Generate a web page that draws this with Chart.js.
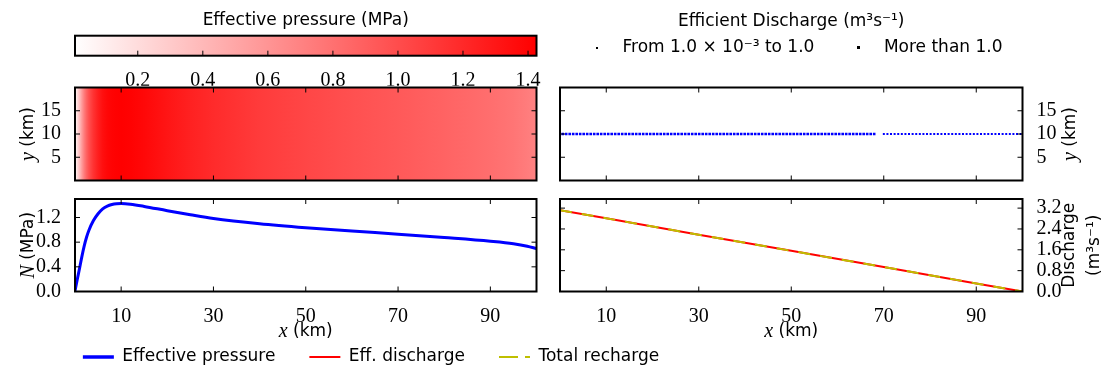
<!DOCTYPE html>
<html>
<head>
<meta charset="utf-8">
<title>Effective pressure and efficient discharge</title>
<script src="https://cdn.jsdelivr.net/npm/chart.js@4.4.1/dist/chart.umd.min.js"></script>
<style>
  html, body { margin: 0; padding: 0; background: #ffffff; overflow: hidden; }
  #figure { position: relative; width: 1110px; height: 374px; overflow: hidden; }
  #figure canvas { position: absolute; left: 0; top: 0; }
</style>
</head>
<body>
<div id="figure">
  <canvas id="cbar" width="1110" height="374"></canvas>
  <canvas id="mapN" width="1110" height="374"></canvas>
  <canvas id="mapQ" width="1110" height="374"></canvas>
  <canvas id="lineN" width="1110" height="374"></canvas>
  <canvas id="lineQ" width="1110" height="374"></canvas>
  <canvas id="legQ" width="1110" height="374"></canvas>
  <canvas id="legB" width="1110" height="300" style="top:240px"></canvas>
</div>
<script>
// Effective pressure along the flow line
var xKm = [0, 0.5, 1, 1.5, 2, 2.5, 3, 4, 5, 6, 7, 8, 9, 10, 12, 15, 20, 25, 30, 40, 50, 60, 70, 80, 90, 95, 98, 100];
var effPressure = [0.007, 0.2, 0.38, 0.57, 0.74, 0.88, 0.99, 1.15, 1.26, 1.34, 1.385, 1.41, 1.423, 1.426, 1.415, 1.38, 1.31, 1.245, 1.185, 1.10, 1.035, 0.98, 0.93, 0.875, 0.815, 0.775, 0.735, 0.695];

// Discharge (lower right panel)
var qX = [0, 10, 30, 50, 70, 90, 100];
var effDischarge = [3.12, 2.81, 2.18, 1.56, 0.94, 0.31, 0];
var totalRecharge = [3.12, 2.81, 2.18, 1.56, 0.94, 0.31, 0];

// Efficient channel (upper right panel), split by discharge class
var channelY = 10;
var moreThanOneX = [0.3, 68.4];
var fromMilliX = [69.8, 99.8];
var mapTopKm = 20;

// Ticks
var xTicks = [10, 30, 50, 70, 90];
var mapYTicks = [5, 10, 15];
var nTicks = [0, 0.4, 0.8, 1.2];
var qTicks = [0, 0.8, 1.6, 2.4, 3.2];
var cbTicks = [0.2, 0.4, 0.6, 0.8, 1.0, 1.2, 1.4];

var legendNames = ['Effective pressure', 'Eff. discharge', 'Total recharge'];
var channelNames = ['From 1.0 \u00d7 10\u207b\u00b3 to 1.0', 'More than 1.0'];

var SERIF = '"Liberation Serif", serif';
var SANS = '"DejaVu Sans", sans-serif';
var tickFont = {family: SERIF, size: 20};
var seriesColors = ['#0000ff', '#ff0000', '#bfbf00'];

Chart.defaults.color = '#000';
Chart.defaults.font.family = SANS;

var cbMin = Math.min.apply(null, effPressure);
var cbMax = Math.max.apply(null, effPressure);

function pressureColor(n) {
    var t = Math.max(0, Math.min(1, (n - cbMin) / (cbMax - cbMin)));
    var v = Math.round(255 * (1 - t));
    return 'rgb(255,' + v + ',' + v + ')';
}

function baseOptions(padding) {
    return {
        responsive: false,
        animation: false,
        devicePixelRatio: 1,
        events: [],
        layout: {padding: padding},
        plugins: {legend: {display: false}, tooltip: {enabled: false}, title: {display: false}}
    };
}

function xAxis(showLabels, height) {
    return {
        type: 'linear', min: 0, max: 100,
        grid: {display: false}, border: {display: false},
        afterBuildTicks: function (s) { s.ticks = xTicks.map(function (v) { return {value: v}; }); },
        afterFit: function (s) { s.height = height; },
        ticks: {display: showLabels, autoSkip: false, maxRotation: 0, padding: 5, color: '#000', font: tickFont,
            callback: function (v) { return String(v); }}
    };
}

function yAxis(position, max, list, width, digits) {
    return {
        type: 'linear', position: position, min: 0, max: max,
        grid: {display: false}, border: {display: false},
        afterBuildTicks: function (s) { s.ticks = list.map(function (v) { return {value: v}; }); },
        afterFit: function (s) { s.width = width; },
        ticks: {autoSkip: false, padding: 6, color: '#000', font: tickFont,
            callback: function (v) { return v.toFixed(digits); }}
    };
}

// black frame with matplotlib style inward ticks
function frame(xSides, ySides) {
    return {
        id: 'frame',
        afterDraw: function (chart) {
            var ctx = chart.ctx, a = chart.chartArea, len = 5;
            ctx.save();
            ctx.strokeStyle = '#000';
            ctx.lineWidth = 1;
            ctx.beginPath();
            chart.scales.x.ticks.forEach(function (t) {
                var px = chart.scales.x.getPixelForValue(t.value);
                if (xSides.indexOf('bottom') >= 0) { ctx.moveTo(px, a.bottom); ctx.lineTo(px, a.bottom - len); }
                if (xSides.indexOf('top') >= 0) { ctx.moveTo(px, a.top); ctx.lineTo(px, a.top + len); }
            });
            if (ySides.length) {
                chart.scales.y.ticks.forEach(function (t) {
                    var py = chart.scales.y.getPixelForValue(t.value);
                    if (ySides.indexOf('left') >= 0) { ctx.moveTo(a.left, py); ctx.lineTo(a.left + len, py); }
                    if (ySides.indexOf('right') >= 0) { ctx.moveTo(a.right, py); ctx.lineTo(a.right - len, py); }
                });
            }
            ctx.stroke();
            ctx.lineWidth = 2;
            ctx.strokeRect(a.left, a.top, a.right - a.left, a.bottom - a.top);
            ctx.restore();
        }
    };
}

// axis titles with mixed fonts (math italic + sans), rotated like matplotlib
function titles(items) {
    return {
        id: 'richTitles',
        afterDraw: function (chart) {
            var ctx = chart.ctx, a = chart.chartArea;
            items.forEach(function (item) {
                var cx = (a.left + a.right) / 2, cy = (a.top + a.bottom) / 2;
                if (item.side === 'left') cx = a.left - item.offset;
                if (item.side === 'right') cx = a.right + item.offset;
                if (item.side === 'bottom') cy = a.bottom + item.offset;
                ctx.save();
                ctx.translate(cx, cy);
                if (item.side !== 'bottom') ctx.rotate(-Math.PI / 2);
                ctx.fillStyle = '#000';
                ctx.textBaseline = 'middle';
                ctx.textAlign = 'left';
                item.lines.forEach(function (runs, li) {
                    var w = 0;
                    runs.forEach(function (r) { ctx.font = r.font; w += ctx.measureText(r.text).width; });
                    var x = -w / 2;
                    var y = (li - (item.lines.length - 1) / 2) * (item.gap || 0);
                    runs.forEach(function (r) {
                        ctx.font = r.font;
                        ctx.fillText(r.text, x, y);
                        x += ctx.measureText(r.text).width;
                    });
                });
                ctx.restore();
            });
        }
    };
}

var mathIt = 'italic 20px ' + SERIF;
var sans17 = '17px ' + SANS;
function mathLabel(sym, unit) { return [[{text: sym, font: mathIt}, {text: ' ' + unit, font: sans17}]]; }

function markerCanvas(size) {
    var c = document.createElement('canvas');
    c.width = size; c.height = size;
    var g = c.getContext('2d');
    g.fillStyle = '#000';
    g.fillRect(0, 0, size, size);
    return c;
}

// Colorbar
var cbOpts = baseOptions({left: 75, right: 573.5, top: 0, bottom: 288.3});
cbOpts.scales = {
    x: {
        type: 'linear', min: cbMin, max: cbMax,
        grid: {display: false}, border: {display: false},
        afterBuildTicks: function (s) { s.ticks = cbTicks.map(function (v) { return {value: v}; }); },
        afterFit: function (s) { s.height = 30; },
        ticks: {autoSkip: false, maxRotation: 0, padding: 5, color: '#000', font: tickFont,
            callback: function (v) { return v.toFixed(1); }}
    },
    y: {display: false, min: 0, max: 1}
};
cbOpts.plugins.title = {display: true, text: 'Effective pressure (MPa)', fullSize: false, color: '#000',
    font: {family: SANS, size: 17, weight: 'normal'}, padding: {top: 10.8, bottom: 4.5}};
new Chart(document.getElementById('cbar'), {
    type: 'line',
    data: {datasets: [{
        data: [{x: cbMin, y: 1}, {x: cbMax, y: 1}],
        borderWidth: 0, pointRadius: 0, fill: 'origin',
        backgroundColor: function (context) {
            var chart = context.chart, a = chart.chartArea;
            if (!a) return 'rgba(0,0,0,0)';
            var g = chart.ctx.createLinearGradient(a.left, 0, a.right, 0);
            g.addColorStop(0, pressureColor(cbMin));
            g.addColorStop(1, pressureColor(cbMax));
            return g;
        }
    }]},
    options: cbOpts,
    plugins: [frame(['bottom'], [])]
});

// Effective pressure map
var mapNOpts = baseOptions({left: 0, right: 573.5, top: 87.5, bottom: 193.5});
mapNOpts.scales = {x: xAxis(false, 0), y: yAxis('left', mapTopKm, mapYTicks, 75, 0)};
new Chart(document.getElementById('mapN'), {
    type: 'line',
    data: {datasets: [{
        data: xKm.map(function (x) { return {x: x, y: mapTopKm}; }),
        borderWidth: 0, pointRadius: 0, fill: 'origin',
        backgroundColor: function (context) {
            var chart = context.chart, a = chart.chartArea;
            if (!a) return 'rgba(0,0,0,0)';
            var xs = chart.scales.x;
            var g = chart.ctx.createLinearGradient(a.left, 0, a.right, 0);
            xKm.forEach(function (x, i) {
                var stop = (xs.getPixelForValue(x) - a.left) / (a.right - a.left);
                g.addColorStop(Math.max(0, Math.min(1, stop)), pressureColor(effPressure[i]));
            });
            return g;
        }
    }]},
    options: mapNOpts,
    plugins: [frame(['top', 'bottom'], ['left', 'right']),
        titles([{side: 'left', offset: 46, lines: mathLabel('y', '(km)')}])]
});

// Efficient channel map
var mapQOpts = baseOptions({left: 560, right: 0, top: 0, bottom: 193.5});
mapQOpts.scales = {x: xAxis(false, 0), y: yAxis('right', mapTopKm, mapYTicks, 87.5, 0)};
mapQOpts.plugins.title = {display: true, text: 'Efficient Discharge (m\u00b3s\u207b\u00b9)', fullSize: false, color: '#000',
    font: {family: SANS, size: 17, weight: 'normal'}, padding: {top: 11.8, bottom: 55.3}};
new Chart(document.getElementById('mapQ'), {
    type: 'line',
    data: {datasets: [
        {label: channelNames[1], data: moreThanOneX.map(function (x) { return {x: x, y: channelY}; }),
            borderColor: '#0000ff', borderWidth: 2.7, borderDash: [2.6, 0.9], pointRadius: 0, fill: false},
        {label: channelNames[0], data: fromMilliX.map(function (x) { return {x: x, y: channelY}; }),
            borderColor: '#0000ff', borderWidth: 2, borderDash: [2, 1.6], pointRadius: 0, fill: false}
    ]},
    options: mapQOpts,
    plugins: [frame(['top', 'bottom'], ['left', 'right']),
        titles([{side: 'right', offset: 48, lines: mathLabel('y', '(km)')}])]
});

// Effective pressure profile
var lineNOpts = baseOptions({left: 0, right: 573.5, top: 199, bottom: 42.5});
lineNOpts.scales = {x: xAxis(true, 40), y: yAxis('left', 1.5, nTicks, 75, 1)};
new Chart(document.getElementById('lineN'), {
    type: 'line',
    data: {datasets: [{
        label: legendNames[0],
        data: xKm.map(function (x, i) { return {x: x, y: effPressure[i]}; }),
        borderColor: seriesColors[0], borderWidth: 3, pointRadius: 0, fill: false,
        cubicInterpolationMode: 'monotone'
    }]},
    options: lineNOpts,
    plugins: [frame(['top', 'bottom'], ['left', 'right']),
        titles([{side: 'left', offset: 46, lines: mathLabel('N', '(MPa)')},
            {side: 'bottom', offset: 40, lines: mathLabel('x', '(km)')}])]
});

// Discharge profile
var lineQOpts = baseOptions({left: 560, right: 0, top: 199, bottom: 42.5});
lineQOpts.scales = {x: xAxis(true, 40), y: yAxis('right', 3.55, qTicks, 87.5, 1)};
new Chart(document.getElementById('lineQ'), {
    type: 'line',
    data: {datasets: [
        {label: legendNames[2], data: qX.map(function (x, i) { return {x: x, y: totalRecharge[i]}; }),
            borderColor: seriesColors[2], borderWidth: 2, borderDash: [12, 10], pointRadius: 0, fill: false, order: 0},
        {label: legendNames[1], data: qX.map(function (x, i) { return {x: x, y: effDischarge[i]}; }),
            borderColor: seriesColors[1], borderWidth: 2, pointRadius: 0, fill: false, order: 1}
    ]},
    options: lineQOpts,
    plugins: [frame(['top', 'bottom'], ['left', 'right']),
        titles([{side: 'right', offset: 60, gap: 25, lines: [[{text: 'Discharge', font: sans17}], [{text: '(m\u00b3s\u207b\u00b9)', font: sans17}]]},
            {side: 'bottom', offset: 40, lines: mathLabel('x', '(km)')}])]
});

// Legend of the channel markers (centred over the right panels)
var markerSizes = [2, 3];
var legQOpts = baseOptions({left: 530, right: 57.5, top: 12, bottom: 0});
legQOpts.scales = {x: {display: false}, y: {display: false}};
legQOpts.plugins.legend = {
    display: true, position: 'top',
    labels: {
        usePointStyle: true, pointStyleWidth: 34, padding: 27, color: '#000',
        font: {family: SANS, size: 17},
        generateLabels: function () {
            return channelNames.map(function (name, i) {
                return {text: name, fillStyle: '#000', strokeStyle: '#000', lineWidth: 0,
                    pointStyle: markerCanvas(markerSizes[i]), hidden: false, datasetIndex: i};
            });
        }
    }
};
new Chart(document.getElementById('legQ'), {type: 'line', data: {datasets: []}, options: legQOpts});

// Legend under the profiles
var legendWidths = [3.5, 2, 2];
var legendDash = [[], [], [19, 7]];
var legBOpts = baseOptions({left: 0, right: 368, top: 74.5, bottom: 0});
legBOpts.scales = {x: {display: false}, y: {display: false}};
legBOpts.plugins.legend = {
    display: true, position: 'top',
    labels: {
        usePointStyle: true, pointStyleWidth: 31, padding: 34, color: '#000',
        font: {family: SANS, size: 17},
        generateLabels: function () {
            return legendNames.map(function (name, i) {
                return {text: name, fillStyle: seriesColors[i], strokeStyle: seriesColors[i],
                    lineWidth: legendWidths[i], lineDash: legendDash[i], lineCap: 'butt',
                    pointStyle: 'line', hidden: false, datasetIndex: i};
            });
        }
    }
};
new Chart(document.getElementById('legB'), {type: 'line', data: {datasets: []}, options: legBOpts});
</script>
</body>
</html>
